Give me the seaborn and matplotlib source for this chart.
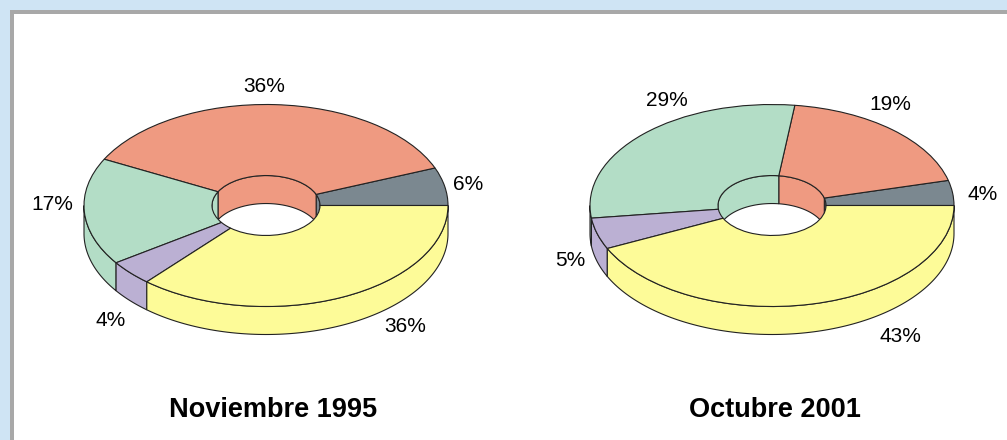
import matplotlib
matplotlib.use("Agg")
import matplotlib.pyplot as plt
from matplotlib.patches import Ellipse, Rectangle
import numpy as np
import seaborn as sns

# porcentajes, en orden antihorario desde las 3
values_1995 = [6, 36, 17, 4, 36]
values_2001 = [4, 19, 29, 5, 43]
labels_1995 = ["6%", "36%", "17%", "4%", "36%"]
labels_2001 = ["4%", "19%", "29%", "5%", "43%"]
titles = ["Noviembre 1995", "Octubre 2001"]

colors = sns.color_palette(["#7B8890", "#EF9A81", "#B3DDC6", "#BBB0D3", "#FDFB98"])

W, H = 1007, 440
RX, RY = 182, 101      # radios en pixeles
DEPTH = 28 / RY        # altura del disco
INNER = 54 / RX        # radio del agujero
LW = 0.8

sns.set_theme(style="white")
plt.rcParams["font.family"] = ["Liberation Sans", "DejaVu Sans"]

fig = plt.figure(figsize=(W / 100, H / 100), dpi=100, facecolor="#CFE4F4")

# marco: borde gris y panel blanco, por debajo de los ejes
fig.patches.append(Rectangle((10 / W, 0), 1, 1 - 10 / H, transform=fig.transFigure,
                             fc="#A8A8A8", ec="none", zorder=-2))
fig.patches.append(Rectangle((14 / W, 0), 1, 1 - 14 / H, transform=fig.transFigure,
                             fc="white", ec="none", zorder=-1))


def px_text(x, y, s, **kw):
    fig.text(x / W, 1 - y / H, s, ha="center", va="center", color="black", **kw)


def donut(cx, cy, values):
    # ejes de 500x320 px; 1 unidad = RX en x y RY en y
    x0, x1, top, bottom = cx - 250, cx + 250, cy - 170, cy + 150
    ax = fig.add_axes([x0 / W, 1 - bottom / H, (x1 - x0) / W, (bottom - top) / H])
    ax.patch.set_alpha(0)

    edges = np.cumsum([0] + values) / sum(values) * 360

    # interior del agujero, recortado por la elipse superior
    hole = Ellipse((0, 0), 2 * INNER, 2 * INNER, transform=ax.transData)
    for i, col in enumerate(colors):
        a, b = edges[i], min(edges[i + 1], 180)
        if a >= b:
            continue
        t = np.radians(np.linspace(a, b, 60))
        xs = np.r_[np.cos(t), np.cos(t[::-1])] * INNER
        ys = np.r_[np.sin(t), np.sin(t[::-1])] * INNER
        ys[len(t):] -= DEPTH
        poly = ax.fill(xs, ys, fc=col, ec="#222222", lw=LW)[0]
        poly.set_clip_path(hole)

    # pared exterior, mitad inferior
    for i, col in enumerate(colors):
        a, b = max(edges[i], 180), edges[i + 1]
        if a >= b:
            continue
        t = np.radians(np.linspace(a, b, 120))
        xs = np.r_[np.cos(t), np.cos(t[::-1])]
        ys = np.r_[np.sin(t), np.sin(t[::-1]) - DEPTH]
        ax.fill(xs, ys, fc=col, ec="#222222", lw=LW)

    # cara superior
    ax.pie(values, colors=colors, startangle=0, counterclock=True, radius=1,
           wedgeprops=dict(width=1 - INNER, edgecolor="#222222", linewidth=LW))
    ax.set_aspect("auto")
    ax.set_xlim((x0 - cx) / RX, (x1 - cx) / RX)
    ax.set_ylim((cy - bottom) / RY, (cy - top) / RY)
    ax.axis("off")


donut(266, 205.5, values_1995)
donut(772, 205.5, values_2001)

# posiciones de las etiquetas en pixeles
pos_1995 = [(468, 184), (264, 86), (52, 204), (111, 321), (405, 326)]
pos_2001 = [(983, 195), (890, 105), (667, 101), (570, 261), (900, 337)]
for (x, y), s in zip(pos_1995, labels_1995):
    px_text(x, y, s, fontsize=15)
for (x, y), s in zip(pos_2001, labels_2001):
    px_text(x, y, s, fontsize=15)

px_text(273, 409.5, titles[0], fontsize=19.5, fontweight="bold")
px_text(775, 409.5, titles[1], fontsize=19.5, fontweight="bold")

fig.savefig("out.png", dpi=100, facecolor=fig.get_facecolor())
